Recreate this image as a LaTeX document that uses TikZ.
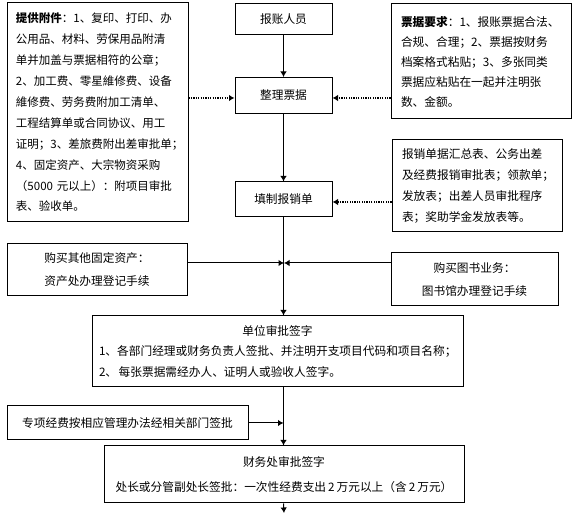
\documentclass[tikz,border=0pt]{standalone}
\usepackage{fontspec}
\setmainfont{Noto Sans CJK SC}
\usetikzlibrary{arrows.meta}
\begin{document}
\begin{tikzpicture}[x=1pt,y=-1pt,
  box/.style={draw, line width=1pt, inner sep=0pt, font=\fontsize{11.7}{21}\selectfont},
  flow/.style={line width=1pt, -{Latex[length=5.5pt,width=6.5pt]}},
  dotflow/.style={line width=1.2pt, dash pattern=on 1.2pt off 1.2pt, -{Latex[length=5.5pt,width=6.5pt]}}]
\useasboundingbox (0,0) rectangle (574,513);
% central column
\node[box, minimum width=97pt, minimum height=31pt] (src) at (283.5,19.5) {报账人员};
\node[box, minimum width=97pt, minimum height=36pt] (sort) at (283.5,95.5) {整理票据};
\node[box, minimum width=97pt, minimum height=35pt] (fill) at (283.5,199.5) {填制报销单};
% side boxes
\node[box, minimum width=181pt, minimum height=219pt, text width=163pt, align=left,
      font=\fontsize{11.5}{20.9}\selectfont] (attach) at (97.5,112.5)
  {\textbf{提供附件}：1、复印、打印、办\\公用品、材料、劳保用品附清\\单并加盖与票据相符的公章；\\2、加工费、零星維修费、设备\\維修费、劳务费附加工清单、\\工程结算单或合同协议、用工\\证明；3、差旅费附出差审批单；\\4、固定资产、大宗物资采购\\（5000 元以上）：附项目审批\\表、验收单。};
\node[box, minimum width=180pt, minimum height=115pt, text width=160pt, align=left,
      font=\fontsize{11.7}{20}\selectfont] (req) at (481,61.5)
  {\textbf{票据要求}：1、报账票据合法、\\合规、合理；2、票据按财务\\档案格式粘贴；3、多张同类\\票据应粘贴在一起并注明张\\数、金额。};
\node[box, minimum width=170pt, minimum height=92pt, text width=150pt, align=left] (forms) at (477,186)
  {报销单据汇总表、公务出差\\及经费报销审批表；领款单；\\发放表；出差人员审批程序\\表；奖助学金发放表等。};
\node[box, minimum width=180pt, minimum height=52pt, align=center,
      font=\fontsize{11.7}{23}\selectfont] (asset) at (97,269.5)
  {购买其他固定资产：\\资产处办理登记手续};
\node[box, minimum width=167pt, minimum height=53pt, align=center,
      font=\fontsize{11.7}{23}\selectfont] (book) at (474.5,279.5)
  {购买图书业务：\\图书馆办理登记手续};
\node[box, minimum width=371pt, minimum height=71pt, text width=357pt, align=left,
      font=\fontsize{11.7}{20.5}\selectfont] (unit) at (277.5,351.5)
  {\makebox[\linewidth]{单位审批签字}\\1、各部门经理或财务负责人签批、并注明开支项目代码和项目名称；\\2、\hspace{1.5pt}每张票据需经办人、证明人或验收人签字。};
\node[box, minimum width=241pt, minimum height=34pt] (special) at (127.5,423)
  {专项经费按相应管理办法经相关部门签批};
\node[box, minimum width=360pt, minimum height=57pt, align=center,
      font=\fontsize{11.7}{25}\selectfont] (finance) at (284,474.5)
  {财务处审批签字\\处长或分管副处长签批：一次性经费支出\hspace{2pt}2\hspace{2pt}万元以上（含\hspace{2pt}2\hspace{2pt}万元）};
% helper coordinates
\coordinate (jA) at (284,263);
\coordinate (endp) at (284,513);
\coordinate (d1) at (0,98);
\coordinate (d2) at (0,202);
% connectors
\draw[flow] (src) -- (sort);
\draw[flow] (sort) -- (fill);
\draw[flow] (fill.south) -- (fill.south |- unit.north);
\draw[flow] (asset.east |- jA) -- (jA);
\draw[flow] (book.west |- jA) -- (jA);
\draw[flow] (fill.south |- unit.south) -- (fill.south |- finance.north);
\draw[flow] (special.east) -- (special.east -| fill.south);
\draw[flow] (fill.south |- finance.south) -- (endp);
\draw[dotflow] (attach.east |- d1) -- (sort.west |- d1);
\draw[dotflow] (req.west |- d1) -- (sort.east |- d1);
\draw[dotflow] (forms.west |- d2) -- (fill.east |- d2);
\end{tikzpicture}
\end{document}
